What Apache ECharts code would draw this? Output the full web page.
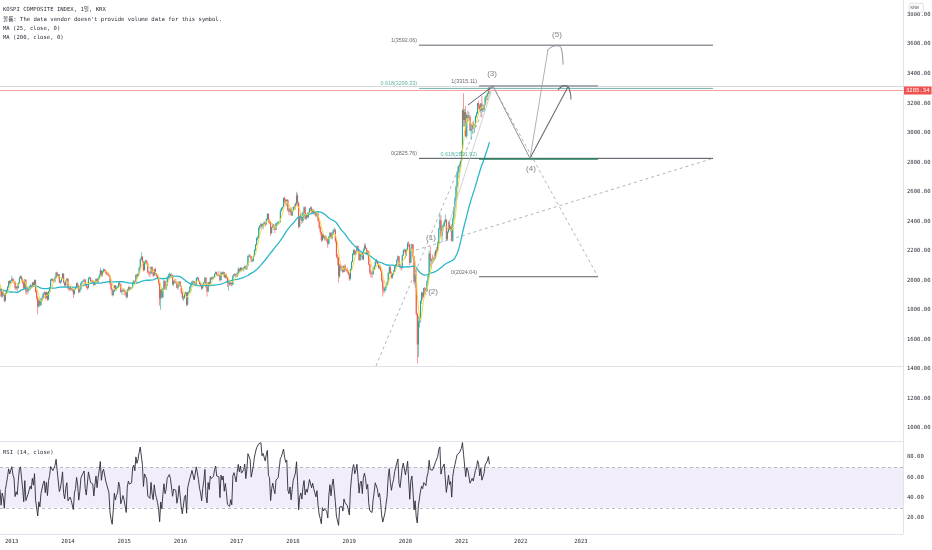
<!DOCTYPE html>
<html><head><meta charset="utf-8">
<script src="https://cdn.jsdelivr.net/npm/echarts@6/dist/echarts.min.js"></script>
<style>html,body{margin:0;padding:0;background:#fff}#c{width:932px;height:550px}</style>
</head><body><div id="c"></div>
<script>
// ---- weekly closes (Jan-Oct 2012 history, only used to warm up the moving averages / RSI)
const history2012 = [1843,1875,1950,1950, 1958,1997,2004,2019, 2034,2019,2050,2026,2014, 2006,1998,1980,1979, 1988,1918,1782,1800, 1834,1850,1891,1856,1854, 1849,1827,1822,1830, 1885,1947,1946,1919,1905, 1920,2007,2003,1996, 1987,1942];

// ---- displayed weekly candles (close / high / low), week ending 2012-10-19 .. 2021-07-02
const c2012 = [1943,1891,1920,1905,1860,1911,1932,1957,1993,1981,1997];
const h2012 = [1965,1948,1930,1935,1912,1915,1940,1962,1996,2002,2000];
const l2012 = [1925,1885,1880,1895,1850,1858,1905,1925,1950,1970,1975];

const c2013 = [2011,1996,1990,1947, 1957,1950,1981,2018, 2026,2006,1986,1947,2004, 1927,1924,1943,1944, 1963,1956,1983,1969,2001, 1923,1882,1822,1863, 1833,1876,1880,1910, 1920,1883,1917,1870,1926, 1951,2003,2009,1997, 1996,2020,2053,2032, 2039,1985,1993,2014,2044, 1985,1964,1994,2011];
const h2013 = [2031,2015,2005,1995, 1965,1965,1985,2025, 2035,2030,2012,1990,2008, 2005,1945,1948,1955, 1975,1968,1990,1990,2005, 2005,1935,1890,1868, 1870,1880,1895,1915, 1925,1925,1925,1920,1930, 1955,2008,2015,2012, 2005,2025,2060,2055, 2045,2040,2000,2018,2050, 2048,1990,2000,2015];
const l2013 = [1990,1985,1975,1935, 1935,1925,1945,1975, 2008,1995,1975,1940,1940, 1905,1900,1910,1930, 1935,1945,1950,1960,1965, 1915,1870,1770,1815, 1825,1825,1865,1875, 1900,1870,1875,1860,1865, 1920,1945,1995,1990, 1985,1985,2015,2025, 2020,1980,1975,1985,2010, 1980,1955,1960,1990];

const c2014 = [1946,1938,1951,1940,1941, 1907,1940,1950,1980, 1964,1920,1940,1980, 1990,1997,2004,1970, 1954,1950,2013,2018,1994, 1995,1992,1969,1988, 2009,1988,2012,2033, 2067,2031,2060,2071,2068, 2051,2044,2041,2031, 1976,1940,1900,1925,1964, 1939,1950,1955,1981, 1971,1921,1929,1937];
const h2014 = [2015,1960,1962,1955,1950, 1945,1945,1960,1985, 1985,1970,1945,1985, 1995,2005,2010,2008, 1975,1965,2020,2025,2020, 2002,2005,1998,1995, 2015,2012,2020,2040, 2085,2070,2065,2080,2078, 2072,2060,2052,2045, 2032,1985,1945,1935,1968, 1968,1960,1965,1985, 1990,1975,1935,1945];
const l2014 = [1940,1925,1930,1930,1925, 1880,1900,1935,1945, 1955,1910,1915,1935, 1970,1985,1990,1965, 1945,1935,1945,2005,1990, 1985,1985,1960,1965, 1985,1980,1985,2008, 2030,2025,2025,2055,2058, 2045,2035,2030,2025, 1970,1930,1890,1895,1920, 1930,1930,1945,1950, 1965,1915,1900,1920];

const c2015 = [1926,1924,1888,1936,1952, 1946,1950,1949,1985, 1993,1986,2037,2028, 2045,2087,2143,2159, 2127,2069,2123,2132,2114, 2055,2051,2046,2090, 2053,2031,2075,2044,2030, 2010,1983,1876,1937, 1886,1942,1995,1942, 1962,2020,2030,2041,2029, 2034,1973,1995,1990, 1991,1950,1962,1990];
const h2015 = [1945,1935,1930,1940,1960, 1960,1955,1955,1990, 2000,2000,2040,2045, 2050,2090,2150,2190, 2165,2130,2130,2140,2135, 2120,2065,2060,2095, 2095,2060,2080,2085,2050, 2040,2020,1990,1940, 1945,1950,2005,2000, 1970,2025,2045,2055,2045, 2050,2040,2000,2005, 2010,1995,1975,1995];
const l2015 = [1900,1895,1875,1880,1930, 1935,1935,1940,1945, 1975,1970,1980,2015, 2020,2040,2085,2135, 2115,2060,2065,2110,2105, 2045,2030,2020,2040, 2045,2020,2030,2040,2020, 2005,1970,1830,1800, 1875,1880,1935,1935, 1935,1960,2005,2020,2020, 2015,1965,1960,1980, 1975,1945,1935,1960];

const c2016 = [1961,1917,1878,1879,1912, 1917,1835,1916,1920, 1955,1971,1992,1992, 1972,1973,2015,2015,1994, 1976,1966,1947,1969, 1985,2017,1953,1925, 1987,1963,2017,2010,2016, 2018,2042,2055,2038, 2038,2037,2000,2053,2043, 2054,2022,2040,2019, 1982,1984,1974,1984, 1971,2031,2042,2035,2026];
const h2016 = [1995,1965,1925,1895,1915, 1925,1920,1920,1930, 1960,1980,1995,2000, 1995,1985,2020,2025,2020, 2000,1985,1970,1975, 1990,2020,2020,1960, 1990,1990,2020,2025,2025, 2025,2045,2060,2060, 2045,2065,2040,2060,2060, 2060,2055,2045,2045, 2025,2000,1990,1990, 1990,2035,2045,2050,2045];
const l2016 = [1955,1905,1870,1860,1875, 1890,1825,1830,1905, 1915,1945,1965,1980, 1965,1960,1970,2005,1990, 1970,1960,1935,1940, 1960,1980,1950,1890, 1920,1955,1960,2000,2005, 2005,2015,2040,2030, 2025,2030,1990,2000,2035, 2035,2015,2010,2010, 1955,1930,1965,1965, 1960,1965,2025,2025,2020];

const c2017 = [2049,2076,2065,2083, 2073,2074,2080,2094, 2078,2098,2164,2168,2160, 2134,2134,2165,2205, 2241,2286,2288,2355, 2371,2381,2361,2378,2392, 2379,2415,2450,2400, 2395,2319,2358,2378, 2357,2343,2386,2388,2394, 2394,2473,2489,2496, 2557,2542,2533,2544, 2476,2464,2482,2440,2467];
const h2017 = [2055,2090,2080,2090, 2090,2085,2090,2100, 2100,2105,2170,2180,2175, 2165,2150,2170,2210, 2245,2290,2300,2360, 2375,2390,2385,2390,2400, 2395,2420,2455,2450, 2415,2400,2365,2385, 2380,2360,2390,2400,2400, 2400,2480,2495,2500, 2560,2565,2550,2550, 2550,2490,2490,2495,2475];
const l2017 = [2020,2040,2055,2060, 2060,2065,2060,2075, 2070,2070,2095,2155,2150, 2120,2125,2125,2160, 2195,2235,2270,2280, 2340,2355,2345,2345,2370, 2365,2375,2410,2390, 2380,2300,2315,2355, 2340,2320,2340,2370,2375, 2390,2390,2465,2480, 2495,2520,2510,2500, 2465,2440,2460,2435,2435];

const c2018 = [2497,2496,2520,2574, 2525,2363,2421,2440, 2402,2459,2494,2417,2445, 2429,2455,2486,2492, 2461,2477,2460,2460, 2438,2451,2404,2357,2326, 2272,2310,2289,2294, 2287,2282,2248,2293,2322, 2287,2318,2339,2343, 2267,2161,2156,2027, 2096,2086,2092,2057,2096, 2075,2069,2061,2041];
const h2018 = [2500,2515,2525,2600, 2590,2530,2430,2455, 2450,2465,2500,2500,2450, 2460,2460,2490,2500, 2500,2480,2480,2475, 2470,2470,2460,2410,2370, 2330,2315,2315,2305, 2305,2300,2285,2300,2325, 2325,2325,2345,2355, 2345,2275,2180,2160, 2110,2110,2100,2100,2100, 2110,2085,2085,2070];
const l2018 = [2465,2480,2480,2510, 2500,2350,2360,2410, 2380,2390,2455,2410,2410, 2420,2420,2450,2470, 2450,2450,2445,2440, 2425,2430,2395,2345,2310, 2260,2265,2280,2270, 2270,2260,2220,2240,2285, 2280,2275,2310,2325, 2255,2150,2100,1985, 2015,2065,2060,2050,2055, 2060,2060,2050,2035];

const c2019 = [2011,2075,2124,2177, 2203,2177,2196,2230, 2195,2138,2176,2186,2140, 2209,2233,2216,2179, 2196,2108,2055,2045,2041, 2072,2095,2126,2130, 2110,2086,2094,2066, 1998,1939,1927,1948,1967, 1986,2049,2091,2049, 2020,2044,2060,2093, 2100,2137,2162,2101,2087, 2081,2170,2204,2204];
const h2019 = [2050,2080,2130,2185, 2210,2210,2200,2235, 2235,2200,2180,2190,2190, 2215,2250,2250,2220, 2205,2200,2110,2070,2060, 2080,2100,2135,2145, 2135,2115,2100,2100, 2070,2010,1960,1960,1975, 1995,2055,2095,2095, 2060,2050,2070,2100, 2110,2145,2170,2165,2110, 2095,2175,2210,2215];
const l2019 = [1995,2005,2070,2120, 2170,2170,2170,2190, 2190,2130,2130,2160,2140, 2135,2200,2210,2175, 2170,2100,2040,2020,2015, 2035,2065,2090,2115, 2100,2075,2075,2060, 1990,1890,1910,1915,1935, 1960,1985,2040,2045, 2010,2010,2035,2055, 2080,2095,2130,2095,2080, 2065,2080,2165,2190];

const c2020 = [2176,2206,2250,2246,2119, 2211,2243,2162,1987, 2040,1771,1566,1717, 1725,1860,1914,1889, 1947,1945,1927,1994,2029, 2181,2132,2141,2134, 2152,2150,2201,2200,2249, 2351,2407,2304,2353, 2368,2396,2412,2278, 2327,2391,2341,2360,2267, 2416,2493,2553,2633, 2731,2770,2772,2806];
const h2020 = [2210,2215,2260,2265,2240, 2215,2250,2245,2165, 2090,2070,1780,1760, 1760,1865,1925,1920, 1950,1955,1950,1998,2035, 2200,2230,2150,2175, 2160,2190,2205,2225,2265, 2355,2460,2440,2375, 2385,2405,2445,2410, 2335,2400,2410,2370,2380, 2425,2500,2565,2640, 2735,2780,2790,2812];
const l2020 = [2150,2165,2200,2225,2100, 2115,2200,2140,1970, 1950,1760,1439,1480, 1680,1715,1840,1870, 1880,1900,1900,1920,1990, 2030,2090,2080,2110, 2120,2135,2145,2180,2195, 2245,2340,2290,2260, 2335,2360,2390,2270, 2270,2320,2340,2330,2265, 2260,2410,2465,2540, 2625,2690,2725,2760];

const c2021 = [2873,3152,3085,3140,2976, 3120,3100,3107,3013, 3026,3054,3039,3041, 3112,3131,3198,3186,3147, 3197,3153,3156,3188, 3240,3249,3267,3302, 3285.34];
const h2021 = [2880,3162,3266,3160,3180, 3125,3150,3140,3120, 3060,3070,3080,3060, 3115,3140,3200,3215,3190, 3200,3250,3170,3190, 3245,3255,3270,3310, 3316];
const l2021 = [2800,2870,3040,3040,2970, 2960,3080,3075,3010, 2950,2990,3020,3000, 3040,3100,3125,3160,3140, 3130,3100,3140,3140, 3185,3220,3240,3260, 3270];

// ---- axis ticks
const priceTicks = [1000,1200,1400,1600,1800,2000,2200,2400,2600,2800,3000,3200,3400,3600,3800];
const rsiTicks = [20,40,60,80];
const yearTicks = [2013,2014,2015,2016,2017,2018,2019,2020,2021,2022.05,2023.12];

// ---- drawings (x in decimal years, y in price)
const fibASpan = [2020.241, 2025.468];
const fibALevels = [3592.06, 3299.33, 2825.76];
const fibALabels = ['1(3592.06)', '0.618(3299.33)', '0(2825.76)'];
const fibBSpan = [2021.308, 2023.423];
const fibBLevels = [3315.11, 2821.92, 2024.04];
const fibBLabels = ['1(3315.11)', '0.618(2821.92)', '0(2024.04)'];
const wave3to4 = [[2021.556,3315.11],[2022.214,2825.76]];
const wave4to5a = [[2022.214,2825.76],[2022.890,3310]];
const hook5a = [[2022.712,3290],[2022.837,3318],[2022.908,3300],[2022.943,3225]];
const wave4to5b = [[2022.214,2825.76],[2022.534,3560]];
const hook5b = [[2022.516,3555],[2022.676,3588],[2022.766,3575],[2022.801,3460]];
const shortLeg = [[2021.112,3187],[2021.556,3315.11]];
const lightLeg = [[2020.739,2340],[2021.556,3315.11]];
const dashA = [[2019.476,1420],[2021.556,3315.11]];
const dashB = [[2021.556,3315.11],[2023.423,2024.04]];
const dashC = [[2020.188,2205],[2025.468,2825.76]];
const waveLabels = ['(1)','(2)','(3)','(4)','(5)'];
const waveLabelPos = [[2020.454,2286],[2020.490,1923],[2021.539,3397],[2022.232,2754],[2022.694,3661]];
const hLines = [3315.11, 1420];
const lastPrice = 3285.34;

// ---- build
const XMIN = 2012.792, XMAX = 2028.845;
const closes = [].concat(c2012,c2013,c2014,c2015,c2016,c2017,c2018,c2019,c2020,c2021);
const highs  = [].concat(h2012,h2013,h2014,h2015,h2016,h2017,h2018,h2019,h2020,h2021);
const lows   = [].concat(l2012,l2013,l2014,l2015,l2016,l2017,l2018,l2019,l2020,l2021);
const all = history2012.concat(closes);
const H = history2012.length;
const DAY = 864e5;
const start = Date.UTC(2012,9,17);
function decYear(ms){const y=new Date(ms).getUTCFullYear();const a=Date.UTC(y,0,1),b=Date.UTC(y+1,0,1);return y+(ms-a)/(b-a);}
const xs = closes.map((_,i)=>decYear(start+i*7*DAY));
const candles = closes.map((c,i)=>{const o=i===0?history2012[H-1]:closes[i-1];return [xs[i],o,c,Math.min(lows[i],o,c),Math.max(highs[i],o,c)];});
function sma(n){return closes.map((_,i)=>{const j=i+H;let s=0,k=0;for(let t=Math.max(0,j-n+1);t<=j;t++){s+=all[t];k++;}return [xs[i],s/k];});}
function rsi(p){const out=[];let ag=0,al=0;for(let i=1;i<all.length;i++){const d=all[i]-all[i-1];const g=Math.max(d,0),l=Math.max(-d,0);if(i<=p){ag+=g/p;al+=l/p;}else{ag=(ag*(p-1)+g)/p;al=(al*(p-1)+l)/p;}out[i]=al===0?100:100-100/(1+ag/al);}return closes.map((_,i)=>[xs[i],out[i+H]]);}
const ma25 = sma(5);    // 25 trading days ~ 5 weeks
const ma200 = sma(40);  // 200 trading days ~ 40 weeks
const rsiData = rsi(6);

const UP='#26a69a', DOWN='#ef5350';
const MONO = "'DejaVu Sans Mono','Noto Sans CJK KR',monospace";
const SANS = "'Liberation Sans','DejaVu Sans',sans-serif";
const FS = 5.6;

function seg(data, color, width, type, extra){return Object.assign({type:'line',xAxisIndex:0,yAxisIndex:0,data:data,symbol:'none',silent:true,animation:false,lineStyle:{color:color,width:width,type:type||'solid'},z:5},extra||{});}

const series = [];
series.push({type:'custom',xAxisIndex:0,yAxisIndex:0,data:candles,clip:true,animation:false,silent:true,z:2,
  encode:{x:0,y:[1,2,3,4]},
  renderItem:function(params,api){
    const x=api.value(0),o=api.value(1),c=api.value(2),l=api.value(3),h=api.value(4);
    const pO=api.coord([x,o]),pC=api.coord([x,c]),pL=api.coord([x,l]),pH=api.coord([x,h]);
    const col=c>=o?UP:DOWN;const top=Math.min(pO[1],pC[1]);const bh=Math.max(Math.abs(pO[1]-pC[1]),0.7);
    return {type:'group',children:[
      {type:'rect',shape:{x:pO[0]-0.3,y:pH[1],width:0.6,height:pL[1]-pH[1]},style:{fill:col}},
      {type:'rect',shape:{x:pO[0]-0.55,y:top,width:1.1,height:bh},style:{fill:col}}]};
  }});
series.push(seg(ma200,'#2bb7c8',1.3,'solid',{z:3}));
series.push(seg(ma25,'#f5d942',1,'solid',{z:4,
  markLine:{symbol:'none',silent:true,animation:false,
    data:[
      {yAxis:hLines[0],lineStyle:{color:'#d6d8de',width:1,type:'solid'},label:{show:false}},
      {yAxis:hLines[1],lineStyle:{color:'#e0e2e7',width:1,type:'solid'},label:{show:false}},
      {yAxis:lastPrice,lineStyle:{color:'#f4a3a1',width:1,type:'solid'},
        label:{show:true,position:'end',distance:1,formatter:lastPrice.toFixed(2),color:'#fff',backgroundColor:'#ef5350',
          padding:[1.5,2,1,2],fontSize:FS,fontFamily:MONO}}
    ]}}));
// fib tools
const fibAColors=['#5d606b','#6db6ac','#4a4d57'];
const fibBColors=['#a9abb0','#2f7d62','#5d606b'];
const fibBWidths=[2,1.6,1];
fibALevels.forEach((v,i)=>series.push(seg([[fibASpan[0],v],[fibASpan[1],v]],fibAColors[i],1)));
fibBLevels.forEach((v,i)=>series.push(seg([[fibBSpan[0],v],[fibBSpan[1],v]],fibBColors[i],fibBWidths[i])));
const fibLabelColors=['#3d3f47','#2f9e8f','#3d3f47'];
series.push({type:'scatter',xAxisIndex:0,yAxisIndex:0,symbolSize:0,silent:true,animation:false,z:6,
  data:fibALevels.map((v,i)=>({value:[fibASpan[0],v],label:{formatter:fibALabels[i],color:fibLabelColors[i]}}))
   .concat(fibBLevels.map((v,i)=>({value:[fibBSpan[0],v],label:{formatter:fibBLabels[i],color:fibLabelColors[i]}}))),
  label:{show:true,position:'left',distance:2,offset:[0,-4.5],fontSize:5.4,fontFamily:SANS}});
// waves
series.push(seg(dashA,'#9ea1a9',0.8,[3,3]));
series.push(seg(dashB,'#9ea1a9',0.8,[3,3]));
series.push(seg(dashC,'#9ea1a9',0.8,[3,3]));
series.push(seg(lightLeg,'#c4c6cc',0.8));
series.push(seg(shortLeg,'#4a4d57',0.9));
series.push(seg(wave3to4,'#8f929a',1));
series.push(seg(wave4to5a,'#6a6d76',1.1));
series.push(seg(hook5a,'#6a6d76',1.1,'solid',{smooth:true}));
series.push(seg(wave4to5b,'#a3a6ad',0.9));
series.push(seg(hook5b,'#8f929a',1,'solid',{smooth:true}));
series.push({type:'scatter',xAxisIndex:0,yAxisIndex:0,symbolSize:0,silent:true,animation:false,z:7,
  data:waveLabels.map((t,i)=>({value:waveLabelPos[i],label:{formatter:t}})),
  label:{show:true,position:'inside',fontSize:8,fontFamily:SANS,color:'#5d606b'}});
// RSI
series.push({type:'line',xAxisIndex:1,yAxisIndex:1,data:rsiData,symbol:'none',silent:true,animation:false,z:5,
  lineStyle:{color:'#2d2a3a',width:0.9},
  markArea:{silent:true,data:[[{yAxis:30},{yAxis:70}]],itemStyle:{color:'rgba(126,87,194,0.1)'}},
  markLine:{symbol:'none',silent:true,animation:false,label:{show:false},lineStyle:{color:'#a8abb3',type:[3,3],width:0.8},
    data:[{yAxis:70},{yAxis:30}]}});

const axisLbl={fontSize:FS,fontFamily:MONO,color:'#2a2e39'};
const option={
  animation:false,
  grid:[{left:0,right:29,top:0,height:441,containLabel:false,outerBoundsMode:'none'},
        {left:0,right:29,top:441,height:93,containLabel:false,outerBoundsMode:'none'}],
  xAxis:[
    {type:'value',gridIndex:0,min:XMIN,max:XMAX,axisLine:{show:true,onZero:false,lineStyle:{color:'#e0e3eb'}},axisTick:{show:false},axisLabel:{show:false},splitLine:{show:false}},
    {type:'value',gridIndex:1,min:XMIN,max:XMAX,axisLine:{show:true,onZero:false,lineStyle:{color:'#e0e3eb'}},axisTick:{show:false},splitLine:{show:false},
      axisLabel:Object.assign({customValues:yearTicks,margin:4.3,formatter:v=>String(Math.floor(v+1e-6))},axisLbl)}
  ],
  yAxis:[
    {type:'value',gridIndex:0,position:'right',min:911.9,max:3897.9,axisLine:{show:true,lineStyle:{color:'#e0e3eb'}},axisTick:{show:false},splitLine:{show:false},
      axisLabel:Object.assign({customValues:priceTicks,margin:4,formatter:v=>v.toFixed(2)},axisLbl)},
    {type:'value',gridIndex:1,position:'right',min:4.26,max:95.74,axisLine:{show:true,lineStyle:{color:'#e0e3eb'}},axisTick:{show:false},splitLine:{show:false},
      axisLabel:Object.assign({customValues:rsiTicks,margin:4,formatter:v=>v.toFixed(2)},axisLbl)}
  ],
  graphic:[
    {type:'text',left:3,top:7,style:{text:'KOSPI COMPOSITE INDEX, 1일, KRX',fontSize:FS,fontFamily:MONO,fill:'#2a2e39'}},
    {type:'text',left:3,top:16.3,style:{text:"볼륨: The data vendor doesn't provide volume data for this symbol.",fontSize:FS,fontFamily:MONO,fill:'#2a2e39'}},
    {type:'text',left:3,top:25.3,style:{text:'MA (25, close, 0)',fontSize:FS,fontFamily:MONO,fill:'#2a2e39'}},
    {type:'text',left:3,top:34.7,style:{text:'MA (200, close, 0)',fontSize:FS,fontFamily:MONO,fill:'#2a2e39'}},
    {type:'text',left:3,top:449.7,style:{text:'RSI (14, close)',fontSize:FS,fontFamily:MONO,fill:'#2a2e39'}},
    {type:'rect',left:909,top:3,shape:{width:14,height:9,r:1.5},style:{fill:'#fff',stroke:'#c8cbd3',lineWidth:0.6},z:100},
    {type:'text',left:910.5,top:5.2,style:{text:'KRW',fontSize:4.6,fontFamily:MONO,fill:'#5d606b'},z:101}
  ],
  series:series
};
const chart=echarts.init(document.getElementById('c'),null,{renderer:'canvas'});
chart.setOption(option);
</script></body></html>
